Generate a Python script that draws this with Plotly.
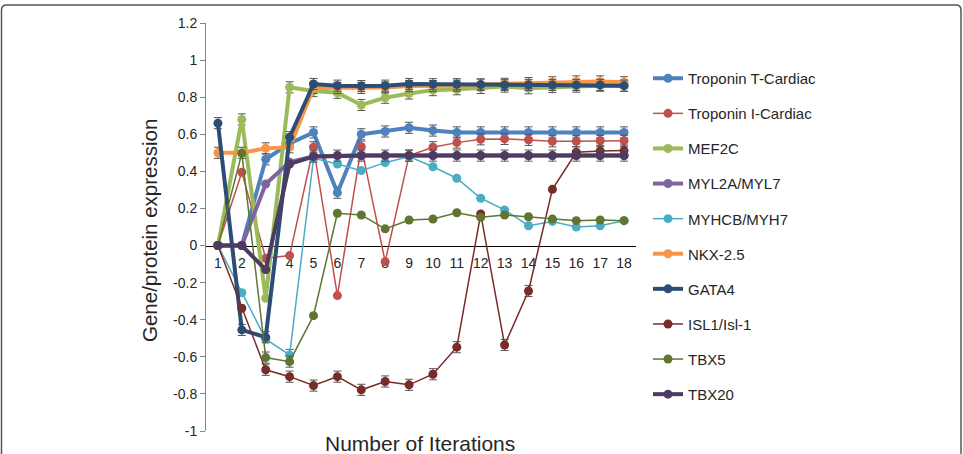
import plotly.graph_objects as go

iterations = list(range(1, 19))

series_names = ["Troponin T-Cardiac", "Troponin I-Cardiac", "MEF2C", "MYL2A/MYL7", "MYHCB/MYH7",
                "NKX-2.5", "GATA4", "ISL1/Isl-1", "TBX5", "TBX20"]

troponin_t = [0, 0, 0.465, 0.55, 0.61, 0.285, 0.60, 0.615, 0.635, 0.62, 0.61, 0.61, 0.61, 0.61, 0.61, 0.61, 0.61, 0.61]
troponin_i = [0, 0.395, -0.068, -0.054, 0.53, -0.27, 0.533, -0.087, 0.485, 0.53, 0.555, 0.573, 0.575, 0.57, 0.562, 0.562, 0.565, 0.565]
mef2c      = [0, 0.68, -0.284, 0.853, 0.833, 0.824, 0.758, 0.797, 0.82, 0.838, 0.843, 0.85, 0.857, 0.848, 0.855, 0.857, 0.862, 0.862]
myl2a      = [0, 0, 0.332, 0.45, 0.48, 0.485, 0.485, 0.485, 0.485, 0.485, 0.485, 0.485, 0.485, 0.485, 0.485, 0.485, 0.485, 0.485]
myhcb      = [0, -0.254, -0.505, -0.59, 0.47, 0.44, 0.404, 0.447, 0.48, 0.425, 0.363, 0.255, 0.192, 0.107, 0.13, 0.10, 0.107, 0.134]
nkx25      = [0.50, 0.50, 0.524, 0.53, 0.85, 0.85, 0.85, 0.852, 0.86, 0.86, 0.862, 0.868, 0.872, 0.876, 0.88, 0.885, 0.885, 0.88]
gata4      = [0.66, -0.455, -0.494, 0.584, 0.871, 0.862, 0.86, 0.862, 0.871, 0.87, 0.87, 0.868, 0.866, 0.866, 0.866, 0.866, 0.866, 0.862]
isl1       = [0, -0.338, -0.67, -0.707, -0.755, -0.707, -0.778, -0.733, -0.751, -0.694, -0.548, 0.17, -0.536, -0.245, 0.303, 0.503, 0.51, 0.512]
tbx5       = [0, 0.497, -0.604, -0.626, -0.378, 0.174, 0.165, 0.09, 0.138, 0.143, 0.177, 0.152, 0.165, 0.155, 0.143, 0.134, 0.138, 0.134]
tbx20      = [0, 0, -0.13, 0.44, 0.48, 0.485, 0.485, 0.485, 0.485, 0.485, 0.485, 0.485, 0.485, 0.485, 0.485, 0.485, 0.485, 0.485]

E = 0.03
N = None
err_troponin_t = [N, N] + [E] * 16
err_troponin_i = [N, N, N, N, E, N, E, N] + [E] * 10
err_mef2c      = [N, E, N] + [E] * 15
err_myl2a      = [N] * 18
err_myhcb      = [N, N, N, E] + [N] * 14
err_nkx25      = [E] * 18
err_gata4      = [E] * 18
err_isl1       = [N, N] + [E] * 9 + [N, E, E, N, E, E, E]
err_tbx5       = [N, N, E, E] + [N] * 14
err_tbx20      = [N, N, N, N] + [E] * 14

y_tick_vals = [1.2, 1, 0.8, 0.6, 0.4, 0.2, 0, -0.2, -0.4, -0.6, -0.8, -1]
y_tick_text = ["1.2", "1", "0.8", "0.6", "0.4", "0.2", "0", "-0.2", "-0.4", "-0.6", "-0.8", "-1"]

values = [troponin_t, troponin_i, mef2c, myl2a, myhcb, nkx25, gata4, isl1, tbx5, tbx20]
errors = [err_troponin_t, err_troponin_i, err_mef2c, err_myl2a, err_myhcb, err_nkx25, err_gata4, err_isl1, err_tbx5, err_tbx20]
colors = ["#4F81BD", "#C0504D", "#9BBB59", "#8064A2", "#4BACC6", "#F79646", "#2C4D75", "#772C2A", "#5F7530", "#4D3B62"]
widths = [4, 1.5, 4, 4, 1.5, 4, 4, 1.5, 1.5, 4]

W, H = 963, 454
L, R, T, B = 206, 327, 23, 23
PW, PH = W - L - R, H - T - B

def px(x):
    return (x - L) / PW

def py(y):
    return (H - B - y) / PH

fig = go.Figure()
for name, vals, err, col, lw in zip(series_names, values, errors, colors, widths):
    fig.add_trace(go.Scatter(
        x=iterations, y=vals, name=name, mode="lines+markers",
        line=dict(color=col, width=lw),
        marker=dict(color=col, size=9),
        error_y=dict(type="data", array=err, visible=True, color="#555555", thickness=1, width=4),
        legendgroup=name,
    ))

border = (f"M {px(1.5)},{py(470)} L {px(1.5)},{py(10)} Q {px(1.5)},{py(5)} {px(6.5)},{py(5)} "
          f"L {px(956)},{py(5)} Q {px(961)},{py(5)} {px(961)},{py(10)} L {px(961)},{py(470)}")

fig.update_layout(
    width=W, height=H,
    margin=dict(l=L, r=R, t=T, b=B, pad=0),
    paper_bgcolor="white", plot_bgcolor="white",
    font=dict(family="Liberation Sans, Arial, sans-serif", size=14, color="#262626"),
    showlegend=True,
    legend=dict(x=px(648), y=py(62), xanchor="left", yanchor="top",
                font=dict(size=15, color="#262626"), tracegroupgap=12.6,
                bgcolor="rgba(0,0,0,0)"),
    xaxis=dict(range=[0.5, 18.5], tickvals=iterations, ticktext=[str(i) for i in iterations],
               showgrid=False, zeroline=False, showline=True, linecolor="black", linewidth=1,
               ticks="", anchor="free", position=1 / 2.2, layer="below traces",
               ticklabelstandoff=5,
               tickfont=dict(size=14, color="#262626")),
    yaxis=dict(range=[-1, 1.2], tickvals=y_tick_vals, ticktext=y_tick_text,
               showgrid=False, zeroline=False, showline=True, linecolor="#868686", linewidth=1,
               ticks="outside", ticklen=5, tickcolor="#868686",
               tickfont=dict(size=14, color="#262626")),
    shapes=[dict(type="path", path=border, xref="paper", yref="paper",
                 line=dict(color="#555555", width=1.5))],
    annotations=[
        dict(text="Gene/protein expression", x=px(149), y=py(231), xref="paper", yref="paper",
             textangle=-90, showarrow=False, xanchor="center", yanchor="middle",
             font=dict(size=20.5, color="#262626")),
        dict(text="Number of Iterations", x=px(420), y=py(444), xref="paper", yref="paper",
             showarrow=False, xanchor="center", yanchor="middle",
             font=dict(size=21, color="#262626")),
    ],
)

fig.write_html("out.html")
